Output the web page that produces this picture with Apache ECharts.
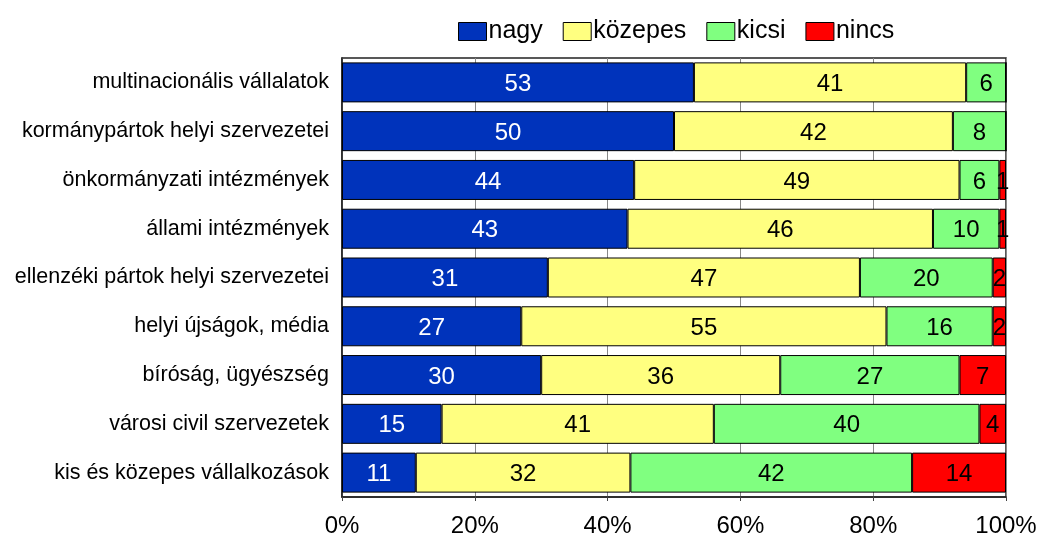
<!DOCTYPE html>
<html>
<head>
<meta charset="utf-8">
<script src="https://cdn.jsdelivr.net/npm/echarts@6/dist/echarts.min.js"></script>
<style>
  html, body { margin: 0; padding: 0; background: #fff; }
  #chart { width: 1040px; height: 538px; }
</style>
</head>
<body>
<div id="chart"></div>
<script>
// kategóriák fentről lefelé
var categories = [
  'multinacionális vállalatok',
  'kormánypártok helyi szervezetei',
  'önkormányzati intézmények',
  'állami intézmények',
  'ellenzéki pártok helyi szervezetei',
  'helyi újságok, média',
  'bíróság, ügyészség',
  'városi civil szervezetek',
  'kis és közepes vállalkozások'
];
var nagy     = [53, 50, 44, 43, 31, 27, 30, 15, 11];
var kozepes  = [41, 42, 49, 46, 47, 55, 36, 41, 32];
var kicsi    = [6, 8, 6, 10, 20, 16, 27, 40, 42];
var nincs    = [0, 0, 1, 1, 2, 2, 7, 4, 14];
var tickLabels = ['0%', '20%', '40%', '60%', '80%', '100%'];

var FONT = '"Liberation Sans Narrow", "Liberation Sans", Arial, sans-serif';

// 100%-os halmozás: soronkénti összegre normálva
var rowSum = categories.map(function (c, i) {
  return nagy[i] + kozepes[i] + kicsi[i] + nincs[i];
});
function toPct(arr) {
  return arr.map(function (v, i) {
    return { value: v / rowSum[i] * 100, raw: v };
  });
}

function makeSeries(name, arr, color, labelColor) {
  return {
    name: name,
    type: 'bar',
    stack: 'all',
    barCategoryGap: '18%',
    data: toPct(arr),
    itemStyle: { color: color, borderColor: '#000', borderWidth: 1 },
    label: {
      show: true,
      position: 'inside',
      offset: [0, 2],
      color: labelColor,
      fontFamily: FONT,
      fontSize: 24,
      formatter: function (p) { return p.data.raw ? String(p.data.raw) : ''; }
    },
    emphasis: { disabled: true }
  };
}

var legendItem = function (name) {
  return { name: name, itemStyle: { borderColor: '#000', borderWidth: 1 } };
};

var chart = echarts.init(document.getElementById('chart'));
chart.setOption({
  animation: false,
  backgroundColor: '#fff',
  textStyle: { fontFamily: FONT },
  legend: {
    top: 14,
    left: 453,
    itemWidth: 28,
    itemHeight: 18,
    itemGap: 20,
    icon: 'rect',
    textStyle: { fontFamily: FONT, fontSize: 25, color: '#000', padding: [2, 0, 0, -3] },
    data: ['nagy', 'közepes', 'kicsi', 'nincs'].map(legendItem)
  },
  grid: {
    left: 342,
    right: 34,
    top: 58,
    bottom: 41,
    show: true,
    borderColor: '#222',
    borderWidth: 1.5,
    containLabel: false
  },
  xAxis: {
    type: 'value',
    min: 0,
    max: 100,
    interval: 20,
    axisLine: { show: true, lineStyle: { color: '#222', width: 1.5 } },
    axisTick: { show: true, length: 4, inside: false, lineStyle: { color: '#444' } },
    splitLine: { show: true, lineStyle: { color: '#888', width: 1 } },
    axisLabel: {
      fontFamily: FONT,
      fontSize: 24,
      color: '#000',
      margin: 17,
      formatter: function (v) { return tickLabels[Math.round(v / 20)]; }
    }
  },
  yAxis: {
    type: 'category',
    inverse: true,
    data: categories,
    axisLine: { show: true, lineStyle: { color: '#222', width: 1.5 } },
    axisTick: { show: false },
    axisLabel: { fontFamily: FONT, fontSize: 21.5, color: '#000', margin: 13 }
  },
  series: [
    makeSeries('nagy', nagy, '#0033BB', '#fff'),
    makeSeries('közepes', kozepes, '#FFFF80', '#000'),
    makeSeries('kicsi', kicsi, '#80FF80', '#000'),
    makeSeries('nincs', nincs, '#FF0000', '#000')
  ]
});
</script>
</body>
</html>
